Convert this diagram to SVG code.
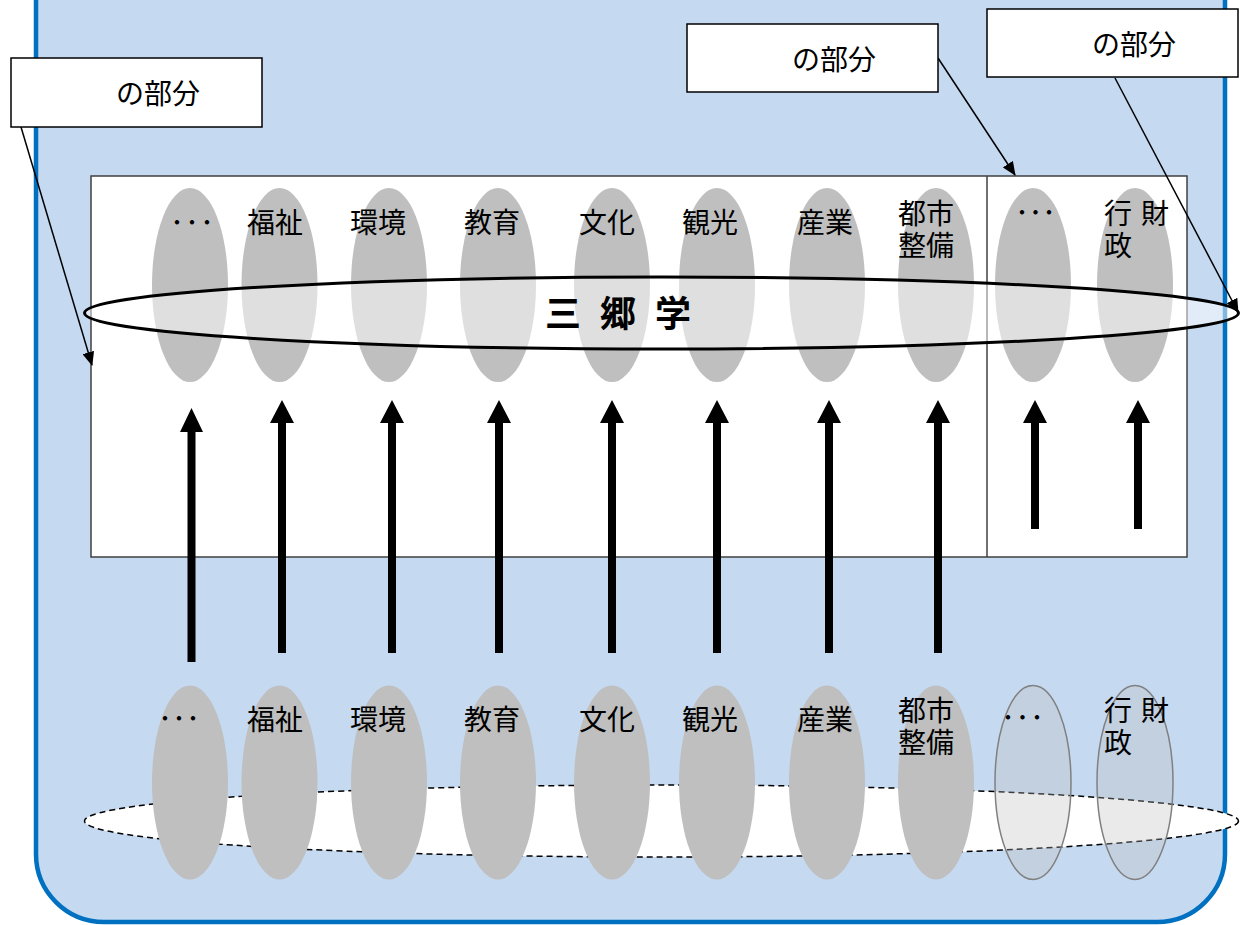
<svg xmlns="http://www.w3.org/2000/svg" width="1240" height="925" viewBox="0 0 1240 925">
<defs>
<style>
.t{font-family:"Noto Sans CJK JP","Noto Sans",sans-serif;font-size:28px;fill:#000}
.d{font-family:"Noto Sans CJK JP","Noto Sans",sans-serif;font-size:26px;fill:#000}
.g{fill:#BFBFBF}
.gt{fill:#BFBFBF;fill-opacity:0.32;stroke:#808080;stroke-width:1.5}
.cb{fill:#fff;stroke:#000;stroke-width:1.5}
.ar{fill:#000}
.co{stroke:#000;stroke-width:1.5;fill:none;marker-end:url(#mh)}
</style>
<marker id="mh" markerWidth="14" markerHeight="12" refX="13" refY="6" orient="auto" markerUnits="userSpaceOnUse">
<path d="M0,0 L14,6 L0,12 Z" fill="#000"/>
</marker>
</defs>
<rect x="0" y="0" width="1240" height="925" fill="#fff"/>
<rect id="frame" x="36" y="-80" width="1189" height="1002" rx="68" ry="68" fill="#C5D9F1" stroke="#0070C0" stroke-width="4.5"/>
<rect id="upper-box" x="91" y="176" width="1096" height="381" fill="#fff" stroke="#404040" stroke-width="1.5"/>
<line x1="987" y1="176" x2="987" y2="557" stroke="#404040" stroke-width="1.5"/>

<g id="upper-fields">
<g id="u0"><ellipse class="g" cx="190" cy="285" rx="38" ry="97"/><text class="d" x="170.5" y="232" letter-spacing="2">･･･</text></g>
<g id="u1"><ellipse class="g" cx="279.5" cy="285" rx="38" ry="97"/><text class="t" x="247" y="233">福祉</text></g>
<g id="u2"><ellipse class="g" cx="389" cy="285" rx="38" ry="97"/><text class="t" x="350" y="233">環境</text></g>
<g id="u3"><ellipse class="g" cx="498" cy="285" rx="38" ry="97"/><text class="t" x="464" y="233">教育</text></g>
<g id="u4"><ellipse class="g" cx="612" cy="285" rx="38" ry="97"/><text class="t" x="579" y="233">文化</text></g>
<g id="u5"><ellipse class="g" cx="717" cy="285" rx="38" ry="97"/><text class="t" x="682" y="233">観光</text></g>
<g id="u6"><ellipse class="g" cx="827" cy="285" rx="38" ry="97"/><text class="t" x="797" y="233">産業</text></g>
<g id="u7"><ellipse class="g" cx="936" cy="285" rx="38" ry="97"/><text class="t"><tspan x="898" y="224">都市</tspan><tspan x="898" y="256">整備</tspan></text></g>
<g id="u8"><ellipse class="g" cx="1033" cy="285" rx="38" ry="97"/><text class="d" x="1015.5" y="222" letter-spacing="0.5">･･･</text></g>
<g id="u9"><ellipse class="g" cx="1135" cy="285" rx="38" ry="97"/><text class="t"><tspan x="1104" y="224">行</tspan><tspan x="1141" y="224">財</tspan><tspan x="1104" y="256">政</tspan></text></g>
</g>

<g id="misato">
<ellipse cx="661.5" cy="313" rx="577" ry="36" fill="#fff" fill-opacity="0.5" stroke="#000" stroke-width="3"/>
<text x="545" y="327" font-family="'Noto Sans CJK JP','Noto Sans',sans-serif" font-size="36" font-weight="bold" letter-spacing="19">三郷学</text>
</g>

<g id="lower-ring">
<ellipse cx="661.5" cy="821" rx="577" ry="36" fill="#fff" stroke="#000" stroke-width="1.5" stroke-dasharray="6,4"/>
</g>

<g id="lower-fields">
<g id="l0"><ellipse class="g" cx="190" cy="782.5" rx="38" ry="97"/><text class="d" x="158.5" y="728" letter-spacing="1">･･･</text></g>
<g id="l1"><ellipse class="g" cx="279.5" cy="782.5" rx="38" ry="97"/><text class="t" x="247" y="730">福祉</text></g>
<g id="l2"><ellipse class="g" cx="389" cy="782.5" rx="38" ry="97"/><text class="t" x="350" y="730">環境</text></g>
<g id="l3"><ellipse class="g" cx="498" cy="782.5" rx="38" ry="97"/><text class="t" x="464" y="730">教育</text></g>
<g id="l4"><ellipse class="g" cx="612" cy="782.5" rx="38" ry="97"/><text class="t" x="579" y="730">文化</text></g>
<g id="l5"><ellipse class="g" cx="717" cy="782.5" rx="38" ry="97"/><text class="t" x="682" y="730">観光</text></g>
<g id="l6"><ellipse class="g" cx="827" cy="782.5" rx="38" ry="97"/><text class="t" x="797" y="730">産業</text></g>
<g id="l7"><ellipse class="g" cx="936" cy="782.5" rx="38" ry="97"/><text class="t"><tspan x="898" y="721">都市</tspan><tspan x="898" y="753">整備</tspan></text></g>
<g id="l8"><ellipse class="gt" cx="1033" cy="782.5" rx="38" ry="97"/><text class="d" x="1001.5" y="727" letter-spacing="1.5">･･･</text></g>
<g id="l9"><ellipse class="gt" cx="1135" cy="782.5" rx="38" ry="97"/><text class="t"><tspan x="1104" y="721">行</tspan><tspan x="1141" y="721">財</tspan><tspan x="1104" y="753">政</tspan></text></g>
</g>

<g id="connectors">
<path class="ar" d="M187.5,662 V432 H180 L191.5,408 L203,432 H195.5 V662 Z"/>
<path class="ar" d="M278,653 V423 H270 L282,400 L294,423 H286 V653 Z"/>
<path class="ar" d="M388,653 V423 H380 L392,400 L404,423 H396 V653 Z"/>
<path class="ar" d="M495,653 V423 H487 L499,400 L511,423 H503 V653 Z"/>
<path class="ar" d="M608,653 V423 H600 L612,400 L624,423 H616 V653 Z"/>
<path class="ar" d="M713,653 V423 H705 L717,400 L729,423 H721 V653 Z"/>
<path class="ar" d="M825,653 V423 H817 L829,400 L841,423 H833 V653 Z"/>
<path class="ar" d="M934,653 V423 H926 L938,400 L950,423 H942 V653 Z"/>
<path class="ar" d="M1031,529 V423 H1023 L1035,400 L1047,423 H1039 V529 Z"/>
<path class="ar" d="M1134,529 V423 H1126 L1138,400 L1150,423 H1142 V529 Z"/>
<line class="co" x1="21" y1="127" x2="92" y2="365"/>
<line class="co" x1="938" y1="58" x2="1015" y2="175"/>
<line class="co" x1="1115" y1="78" x2="1238" y2="312"/>
</g>

<g id="callout-1"><rect class="cb" x="11" y="58" width="251" height="69"/><text class="t" x="116" y="104">の部分</text></g>
<g id="callout-2"><rect class="cb" x="687" y="24" width="251" height="68"/><text class="t" x="792" y="70">の部分</text></g>
<g id="callout-3"><rect class="cb" x="987" y="9" width="251" height="68"/><text class="t" x="1092" y="55">の部分</text></g>
</svg>
